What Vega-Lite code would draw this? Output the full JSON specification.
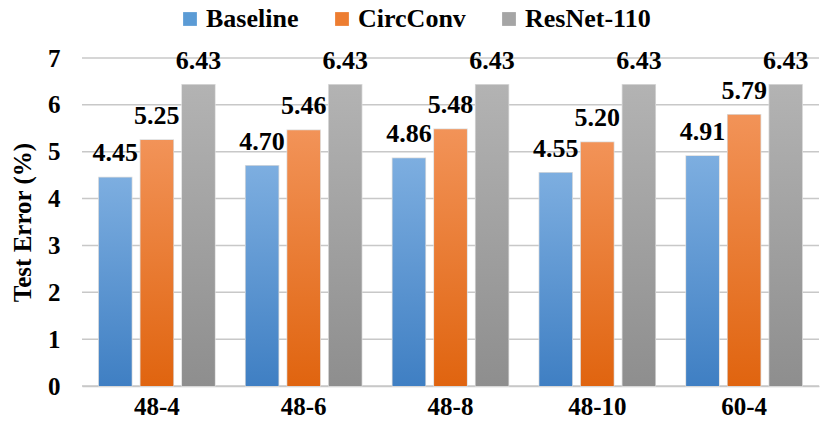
{
  "$schema": "https://vega.github.io/schema/vega-lite/v6.json",
  "autosize": {"type": "fit", "contains": "padding"},
  "width": 827,
  "height": 433,
  "padding": {"left": 10, "top": 46, "right": 7, "bottom": 14},
  "background": "white",
  "config": {
    "font": "Liberation Serif",
    "view": {"stroke": null},
    "axis": {"labelFont": "Liberation Serif", "titleFont": "Liberation Serif", "labelFontWeight": "bold", "titleFontWeight": "bold", "labelColor": "black", "titleColor": "black"},
    "legend": {"labelFont": "Liberation Serif", "labelFontWeight": "bold", "labelColor": "black"}
  },
  "datasets": {
    "results": [
      {"config": "48-4", "series": "Baseline", "error": 4.45},
      {"config": "48-4", "series": "CircConv", "error": 5.25},
      {"config": "48-4", "series": "ResNet-110", "error": 6.43},
      {"config": "48-6", "series": "Baseline", "error": 4.70},
      {"config": "48-6", "series": "CircConv", "error": 5.46},
      {"config": "48-6", "series": "ResNet-110", "error": 6.43},
      {"config": "48-8", "series": "Baseline", "error": 4.86},
      {"config": "48-8", "series": "CircConv", "error": 5.48},
      {"config": "48-8", "series": "ResNet-110", "error": 6.43},
      {"config": "48-10", "series": "Baseline", "error": 4.55},
      {"config": "48-10", "series": "CircConv", "error": 5.20},
      {"config": "48-10", "series": "ResNet-110", "error": 6.43},
      {"config": "60-4", "series": "Baseline", "error": 4.91},
      {"config": "60-4", "series": "CircConv", "error": 5.79},
      {"config": "60-4", "series": "ResNet-110", "error": 6.43}
    ],
    "grid": [
      {"g": 0}, {"g": 1}, {"g": 2}, {"g": 3}, {"g": 4}, {"g": 5}, {"g": 6}, {"g": 7}
    ]
  },
  "layer": [
    {
      "data": {"name": "grid"},
      "mark": {"type": "rule", "color": "#c8c8c8", "strokeWidth": 1.5},
      "encoding": {
        "y": {
          "field": "g", "type": "quantitative",
          "scale": {"domain": [0, 7], "nice": false, "zero": true},
          "axis": {"title": "Test  Error (%)", "titleFontSize": 25, "titlePadding": 12, "labelFontSize": 25, "labelPadding": 22, "values": [0,1,2,3,4,5,6,7], "labelOverlap": false, "ticks": false, "domain": false, "grid": false}
        }
      }
    },
    {
      "data": {"name": "results"},
      "encoding": {
        "x": {
          "field": "config", "type": "nominal", "sort": null,
          "scale": {"paddingInner": 0.21, "paddingOuter": 0.115},
          "axis": {"title": null, "labelAngle": 0, "labelFontSize": 25, "labelPadding": 8, "ticks": false, "domainColor": "#c8c8c8", "domainWidth": 1.5, "grid": false}
        },
        "xOffset": {"field": "series", "type": "nominal", "scale": {"domain": ["Baseline", "CircConv", "ResNet-110"], "paddingInner": 0.21}},
        "y": {
          "field": "error", "type": "quantitative",
          "scale": {"domain": [0, 7], "nice": false, "zero": true},
          "axis": {"title": "Test  Error (%)", "titleFontSize": 25, "titlePadding": 12, "labelFontSize": 25, "labelPadding": 22, "values": [0,1,2,3,4,5,6,7], "labelOverlap": false, "ticks": false, "domain": false, "grid": false}
        }
      },
      "layer": [
        {
          "mark": {"type": "bar", "stroke": "#dcdcdc", "strokeWidth": 1.5},
          "encoding": {
            "color": {
              "field": "series", "type": "nominal",
              "scale": {"domain": ["Baseline", "CircConv", "ResNet-110"], "range": ["#5B9BD5", "#ED7D31", "#A5A5A5"]},
              "legend": {"title": null, "orient": "none", "legendX": 95, "legendY": -52, "direction": "horizontal", "labelFontSize": 26, "symbolType": "square", "symbolSize": 190, "symbolStrokeWidth": 0, "columnPadding": 30, "labelOffset": 3}
            }
          }
        },
        {
          "transform": [{"filter": "datum.series === 'Baseline'"}],
          "mark": {"type": "bar", "fill": {"gradient": "linear", "x1": 0, "y1": 0, "x2": 0, "y2": 1, "stops": [{"offset": 0, "color": "#7DAEE0"}, {"offset": 1, "color": "#3F7FC3"}]}},
          "encoding": {}
        },
        {
          "transform": [{"filter": "datum.series === 'CircConv'"}],
          "mark": {"type": "bar", "fill": {"gradient": "linear", "x1": 0, "y1": 0, "x2": 0, "y2": 1, "stops": [{"offset": 0, "color": "#F29358"}, {"offset": 1, "color": "#E0640F"}]}},
          "encoding": {}
        },
        {
          "transform": [{"filter": "datum.series === 'ResNet-110'"}],
          "mark": {"type": "bar", "fill": {"gradient": "linear", "x1": 0, "y1": 0, "x2": 0, "y2": 1, "stops": [{"offset": 0, "color": "#B3B3B3"}, {"offset": 1, "color": "#8E8E8E"}]}},
          "encoding": {}
        },
        {
          "mark": {"type": "text", "fontWeight": "bold", "fontSize": 26, "baseline": "middle", "dy": -24, "color": "black"},
          "encoding": {
            "text": {"field": "error", "type": "quantitative", "format": ".2f"}
          }
        }
      ]
    }
  ]
}
